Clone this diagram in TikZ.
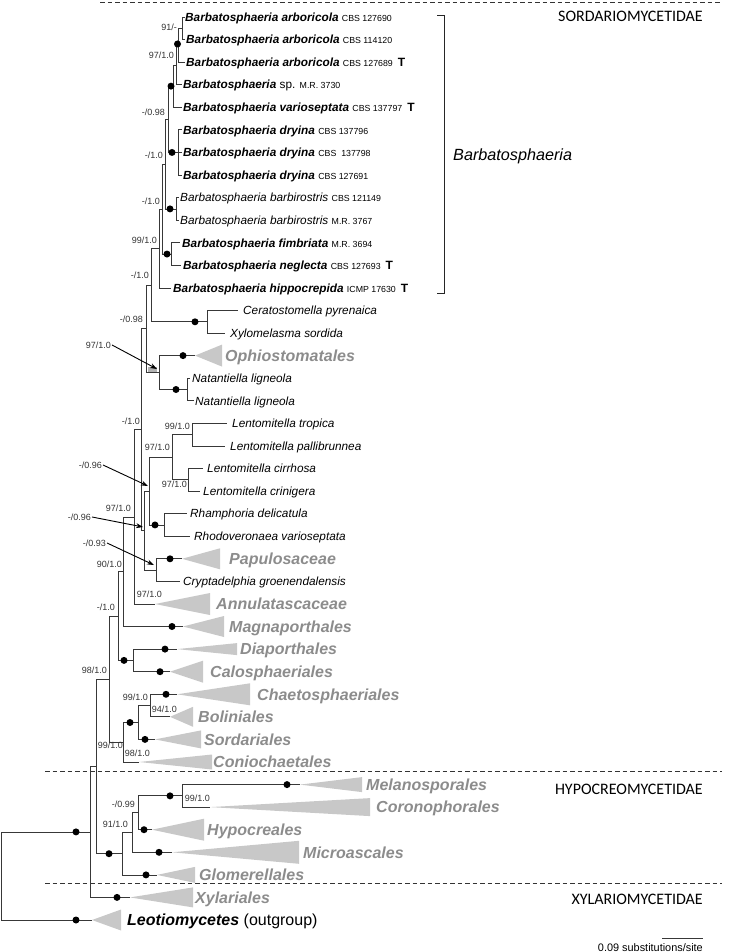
\documentclass[tikz,border=0pt]{standalone}
\usepackage{fontspec}
\setmainfont{Liberation Sans}
\newfontfamily\carlitofont{Carlito}
\usetikzlibrary{arrows.meta}
\definecolor{treeline}{HTML}{383838}
\definecolor{grptext}{HTML}{8C8C8C}
\definecolor{trifill}{HTML}{C8C8C8}
\definecolor{labcol}{HTML}{333333}
\newcommand\strain[1]{{\fontsize{8.8}{9}\selectfont\mdseries\upshape #1}}
\newcommand\typemark{\hspace{5pt}{\fontsize{12}{12}\selectfont\bfseries\upshape T}}
\newcommand\clade[3]{\fill[trifill] (#1) -- ++(#2,-#3) -- ++(0,{2*#3}) -- cycle;}
\newcommand\tedge[2]{\draw[br] (#1) |- (#2);}
\newcommand\bdot[1]{\fill[black] (#1) circle[radius=3.5pt];}
\begin{document}
\begin{tikzpicture}[x=1pt,y=-1pt,
 br/.style={draw=treeline,line width=0.8pt},
 leaf/.style={anchor=base west,inner sep=0pt,yshift=-4.2pt,font=\fontsize{11.8}{12}\selectfont\itshape},
 leafb/.style={leaf,font=\fontsize{11.8}{12}\selectfont\bfseries\itshape},
 grp/.style={anchor=base west,inner sep=0pt,yshift=-5.8pt,font=\fontsize{16}{16}\selectfont\bfseries\itshape,text=grptext},
 lab/.style={anchor=base east,inner sep=0pt,yshift=-3.2pt,font=\fontsize{9}{9}\selectfont,text=labcol},
 sect/.style={anchor=base east,inner sep=0pt,font=\carlitofont\fontsize{16}{16}\selectfont},
 divider/.style={draw=black!80,line width=0.9pt,dash pattern=on 4.5pt off 3pt},
 arr/.style={draw=black,line width=0.9pt,-{Stealth[length=7pt,width=5pt]}}]
\useasboundingbox (0,0) rectangle (735,952);

% ---------- internal nodes ----------
\coordinate (N1) at (182,28.3);
\coordinate (N2) at (178,45.25);
\coordinate (N3) at (176,65);
\coordinate (N4) at (173,86.15);
\coordinate (D) at (178,152.45);
\coordinate (G2) at (168,119.3);
\coordinate (BR) at (176,208.9);
\coordinate (G3) at (165,164.1);
\coordinate (FN) at (171,254.05);
\coordinate (G4) at (162,209.1);
\coordinate (G5) at (159,248.5);
\coordinate (CX) at (207,321.8);
\coordinate (B) at (151,285.15);
\coordinate (NA) at (187,389.5);
\coordinate (ON) at (159,372.55);
\coordinate (P) at (146,328.85);
\coordinate (LT) at (192,434.65);
\coordinate (LC) at (188,479.8);
\coordinate (Ln) at (172,457.2);
\coordinate (RR) at (164,524.95);
\coordinate (R1) at (149,491.1);
\coordinate (PC) at (156,570.1);
\coordinate (R) at (144,530.6);
\coordinate (L) at (141,429.7);
\coordinate (K) at (134,516.9);
\coordinate (M) at (123,571.7);
\coordinate (DC) at (133,660.4);
\coordinate (X) at (118,616.05);
\coordinate (CBo) at (150,705.55);
\coordinate (CB) at (138,722.5);
\coordinate (Y) at (123,742.25);
\coordinate (SO) at (109,679.15);
\coordinate (MC) at (182,795.85);
\coordinate (H2) at (138,812.8);
\coordinate (H1) at (132,832.55);
\coordinate (H) at (122,853.7);
\coordinate (SH) at (96,766.4);
\coordinate (S) at (90,831.9);
\coordinate (Rt) at (1,875.95);

% ---------- tips ----------
\coordinate (t0) at (185,17);
\coordinate (t1) at (185,39.6);
\coordinate (t2) at (185,62.2);
\coordinate (t3) at (182,84.7);
\coordinate (t4) at (182,107.3);
\coordinate (t5) at (182,129.9);
\coordinate (t6) at (182,152.5);
\coordinate (t7) at (182,175);
\coordinate (t8) at (179,197.6);
\coordinate (t9) at (179,220.2);
\coordinate (t10) at (180,242.8);
\coordinate (t11) at (181,265.3);
\coordinate (t12) at (171,287.9);
\coordinate (t13) at (238,310.5);
\coordinate (t14) at (225,333.1);
\coordinate (t16) at (190,378.2);
\coordinate (t17) at (194,400.8);
\coordinate (t18) at (227,423.4);
\coordinate (t19) at (225,445.9);
\coordinate (t20) at (203,468.5);
\coordinate (t21) at (200,491.1);
\coordinate (t22) at (187,513.7);
\coordinate (t23) at (190,536.2);
\coordinate (t25) at (180,581.4);
% collapsed clade apices
\coordinate (aOph) at (195,355.6);
\coordinate (aPap) at (182,558.8);
\coordinate (aAnn) at (155,604);
\coordinate (aMag) at (183,626.5);
\coordinate (aDia) at (177,649.1);
\coordinate (aCal) at (170,671.7);
\coordinate (aCha) at (177,694.3);
\coordinate (aBol) at (170,716.8);
\coordinate (aSor) at (155,739.4);
\coordinate (aCon) at (139,762);
\coordinate (aMel) at (300,784.6);
\coordinate (aCor) at (210,807.1);
\coordinate (aHyp) at (152,829.7);
\coordinate (aMic) at (172,852.3);
\coordinate (aGlo) at (157,874.9);
\coordinate (aXyl) at (130,897.4);
\coordinate (aLeo) at (92,920);

% ---------- dividers ----------
\draw[divider] (100,2.5) -- (722,2.5);
\draw[divider] (45,771) -- (722,771);
\draw[divider] (45,883) -- (722,883);

% ---------- collapsed clades ----------
\clade{aOph}{27}{11}
\clade{aPap}{38}{10.5}
\clade{aAnn}{55}{11}
\clade{aMag}{41}{10.5}
\clade{aDia}{60}{6}
\clade{aCal}{33}{11}
\clade{aCha}{73}{11}
\clade{aBol}{23}{10}
\clade{aSor}{46}{9}
\clade{aCon}{73}{7.5}
\clade{aMel}{62}{7.5}
\clade{aCor}{160}{9}
\clade{aHyp}{52}{11}
\clade{aMic}{127}{11.5}
\clade{aGlo}{38}{8}
\clade{aXyl}{63}{10}
\clade{aLeo}{29}{10.5}
\fill[gray!60] (148,366.5) rectangle (157,372);

% ---------- branches ----------
\tedge{Rt}{S}\tedge{Rt}{aLeo}
\tedge{S}{SH}\tedge{S}{aXyl}
\tedge{SH}{SO}\tedge{SH}{H}
\tedge{SO}{X}\tedge{SO}{Y}
\tedge{X}{M}\tedge{X}{DC}
\tedge{M}{K}\tedge{M}{aMag}
\tedge{K}{L}\tedge{K}{aAnn}
\tedge{L}{P}\tedge{L}{R}
\tedge{P}{B}\tedge{P}{ON}
\tedge{B}{G5}\tedge{B}{CX}
\tedge{G5}{G4}\tedge{G5}{t12}
\tedge{G4}{G3}\tedge{G4}{FN}
\tedge{G3}{G2}\tedge{G3}{BR}
\tedge{G2}{N4}\tedge{G2}{D}
\tedge{N4}{N3}\tedge{N4}{t4}
\tedge{N3}{N2}\tedge{N3}{t3}
\tedge{N2}{N1}\tedge{N2}{t2}
\tedge{N1}{t0}\tedge{N1}{t1}
\tedge{D}{t5}\tedge{D}{t6}\tedge{D}{t7}
\tedge{BR}{t8}\tedge{BR}{t9}
\tedge{FN}{t10}\tedge{FN}{t11}
\tedge{CX}{t13}\tedge{CX}{t14}
\tedge{ON}{aOph}\tedge{ON}{NA}
\tedge{NA}{t16}\tedge{NA}{t17}
\tedge{R}{R1}\tedge{R}{PC}
\tedge{R1}{Ln}\tedge{R1}{RR}
\tedge{Ln}{LT}\tedge{Ln}{LC}
\tedge{LT}{t18}\tedge{LT}{t19}
\tedge{LC}{t20}\tedge{LC}{t21}
\tedge{RR}{t22}\tedge{RR}{t23}
\tedge{PC}{aPap}\tedge{PC}{t25}
\tedge{DC}{aDia}\tedge{DC}{aCal}
\tedge{Y}{CB}\tedge{Y}{aCon}
\tedge{CB}{CBo}\tedge{CB}{aSor}
\tedge{CBo}{aCha}\tedge{CBo}{aBol}
\tedge{H}{H1}\tedge{H}{aGlo}
\tedge{H1}{H2}\tedge{H1}{aMic}
\tedge{H2}{MC}\tedge{H2}{aHyp}
\tedge{MC}{aMel}\tedge{MC}{aCor}

% ---------- support dots ----------
\bdot{177.5,44}\bdot{171,86.15}\bdot{172,152.45}\bdot{170,208.9}\bdot{167,254.05}
\bdot{195,321.8}\bdot{183,355.6}\bdot{176,389.5}\bdot{155,524.95}\bdot{170,558.8}
\bdot{172,626.5}\bdot{124,660.4}\bdot{165,649.1}\bdot{160,671.7}\bdot{166,694.3}
\bdot{130,722.5}\bdot{145,739.4}\bdot{287,784.6}\bdot{170,795.85}\bdot{144,829.7}
\bdot{159,852.3}\bdot{109,853.7}\bdot{146,874.9}\bdot{76,831.9}\bdot{117,897.4}
\bdot{76,920}

% ---------- leaf names ----------
\node[leafb] (L0) at (185,17) {Barbatosphaeria arboricola \strain{CBS 127690}};
\node[leafb] (L1) at (186,39.6) {Barbatosphaeria arboricola \strain{CBS 114120}};
\node[leafb] (L2) at (186,62.2) {Barbatosphaeria arboricola \strain{CBS 127689}\typemark};
\node[leafb] (L3) at (183,84.7) {Barbatosphaeria {\mdseries\upshape sp.} \strain{M.R. 3730}};
\node[leafb] (L4) at (183,107.3) {Barbatosphaeria varioseptata \strain{CBS 137797}\typemark};
\node[leafb] (L5) at (183,129.9) {Barbatosphaeria dryina \strain{CBS 137796}};
\node[leafb] (L6) at (183,152.5) {Barbatosphaeria dryina \strain{CBS \ 137798}};
\node[leafb] (L7) at (183,175) {Barbatosphaeria dryina \strain{CBS 127691}};
\node[leaf] (L8) at (180,197.6) {Barbatosphaeria barbirostris \strain{CBS 121149}};
\node[leaf] (L9) at (180,220.2) {Barbatosphaeria barbirostris \strain{M.R. 3767}};
\node[leafb] (L10) at (182,242.8) {Barbatosphaeria fimbriata \strain{M.R. 3694}};
\node[leafb] (L11) at (183,265.3) {Barbatosphaeria neglecta \strain{CBS 127693}\typemark};
\node[leafb] (L12) at (173,287.9) {Barbatosphaeria hippocrepida \strain{ICMP 17630}\typemark};
\node[leaf] (L13) at (243,310.5) {Ceratostomella pyrenaica};
\node[leaf] (L14) at (230,333.1) {Xylomelasma sordida};
\node[leaf] (L16) at (192,378.2) {Natantiella ligneola};
\node[leaf] (L17) at (195,400.8) {Natantiella ligneola};
\node[leaf] (L18) at (232,423.4) {Lentomitella tropica};
\node[leaf] (L19) at (230,445.9) {Lentomitella pallibrunnea};
\node[leaf] (L20) at (207,468.5) {Lentomitella cirrhosa};
\node[leaf] (L21) at (203,491.1) {Lentomitella crinigera};
\node[leaf] (L22) at (190,513.7) {Rhamphoria delicatula};
\node[leaf] (L23) at (194,536.2) {Rhodoveronaea varioseptata};
\node[leaf] (L25) at (183,581.4) {Cryptadelphia groenendalensis};

% ---------- collapsed clade names ----------
\node[grp] (gOph) at (225,355.6) {Ophiostomatales};
\node[grp] (gPap) at (229,558.8) {Papulosaceae};
\node[grp] (gAnn) at (216,604) {Annulatascaceae};
\node[grp] (gMag) at (229,626.5) {Magnaporthales};
\node[grp] (gDia) at (240,649.1) {Diaporthales};
\node[grp] (gCal) at (210,671.7) {Calosphaeriales};
\node[grp] (gCha) at (257,694.3) {Chaetosphaeriales};
\node[grp] (gBol) at (198,716.8) {Boliniales};
\node[grp] (gSor) at (204,739.4) {Sordariales};
\node[grp] (gCon) at (213,762) {Coniochaetales};
\node[grp] (gMel) at (366,784.6) {Melanosporales};
\node[grp] (gCor) at (376,807.1) {Coronophorales};
\node[grp] (gHyp) at (207,829.7) {Hypocreales};
\node[grp] (gMic) at (303,852.3) {Microascales};
\node[grp] (gGlo) at (199,874.9) {Glomerellales};
\node[grp] (gXyl) at (195,897.4) {Xylariales};
\node[grp,text=black] (gLeo) at (127,920) {Leotiomycetes\mdseries\upshape{} (outgroup)};

% ---------- support values ----------
\node[lab] (lb1) at (177,27) {91/-};
\node[lab] (lb2) at (174,55) {97/1.0};
\node[lab] (lb3) at (165,112) {-/0.98};
\node[lab] (lb4) at (163,155) {-/1.0};
\node[lab] (lb5) at (160,201) {-/1.0};
\node[lab] (lb6) at (157,240) {99/1.0};
\node[lab] (lb7) at (149,275) {-/1.0};
\node[lab] (lb8) at (143,319) {-/0.98};
\node[lab] (lb9) at (111,345) {97/1.0};
\node[lab] (lb10) at (140,421) {-/1.0};
\node[lab] (lb11) at (190,426) {99/1.0};
\node[lab] (lb12) at (170,447) {97/1.0};
\node[lab] (lb13) at (187,484) {97/1.0};
\node[lab] (lb14) at (102,465) {-/0.96};
\node[lab] (lb15) at (131,508) {97/1.0};
\node[lab] (lb16) at (91,517) {-/0.96};
\node[lab] (lb17) at (106,543) {-/0.93};
\node[lab] (lb18) at (122,564) {90/1.0};
\node[lab] (lb19) at (162,594) {97/1.0};
\node[lab] (lb20) at (115,607) {-/1.0};
\node[lab] (lb21) at (107,670) {98/1.0};
\node[lab] (lb22) at (148,697) {99/1.0};
\node[lab] (lb23) at (177,709) {94/1.0};
\node[lab] (lb24) at (123,745) {99/1.0};
\node[lab] (lb25) at (150,753) {98/1.0};
\node[lab] (lb26) at (135,804) {-/0.99};
\node[lab] (lb27) at (128,824) {91/1.0};
\node[lab] (lb28) at (210,798) {99/1.0};

% ---------- arrows ----------
\coordinate (arON) at (157,369);
\coordinate (arR1) at (148,486);
\coordinate (arR) at (143,527);
\coordinate (arPC) at (154,565);
\draw[arr] ([xshift=1pt]lb9.east) -- (arON);
\draw[arr] ([xshift=1pt]lb14.east) -- (arR1);
\draw[arr] ([xshift=1pt]lb16.east) -- (arR);
\draw[arr] ([xshift=1pt]lb17.east) -- (arPC);

% ---------- bracket and subclass names ----------
\draw[draw=black!85,line width=0.9pt] (437,15) -- (444,15) -- (444,293) -- (437,293);
\node[anchor=base west,inner sep=0pt,font=\fontsize{16.2}{16}\selectfont\itshape] (gBar) at (453,160.8) {Barbatosphaeria};
\node[sect] (sSor) at (703,22) {SORDARIOMYCETIDAE};
\node[sect] (sHyp) at (703,794) {HYPOCREOMYCETIDAE};
\node[sect] (sXyl) at (703,904) {XYLARIOMYCETIDAE};

% ---------- scale bar ----------
\coordinate (sb1) at (662,938.3);
\coordinate (sb2) at (703,938.3);
\draw[treeline,line width=0.8pt] (sb1) -- (sb2);
\node[anchor=base east,inner sep=0pt,font=\fontsize{10.9}{11}\selectfont] (sbt) at (703,951) {0.09 substitutions/site};
\end{tikzpicture}
\end{document}
